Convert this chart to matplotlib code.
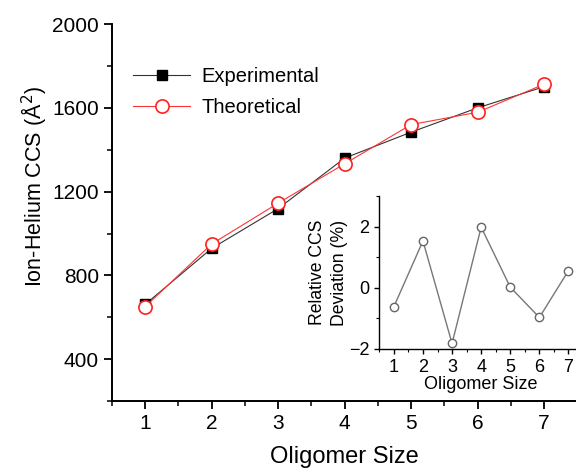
import matplotlib
matplotlib.use("Agg")
import matplotlib.pyplot as plt
from matplotlib.ticker import MultipleLocator

plt.rcParams['font.family'] = ['Liberation Sans', 'DejaVu Sans']

# data
oligomer = [1, 2, 3, 4, 5, 6, 7]
ccs_exp = [662, 929, 1119, 1360, 1484, 1600, 1701]
ccs_theo = [651, 950, 1145, 1333, 1520, 1579, 1713]
deviation = [-0.62, 1.53, -1.82, 1.98, 0.02, -0.97, 0.56]

fig = plt.figure(figsize=(5.76, 4.68), dpi=100)

# main plot
ax = fig.add_axes([0.1944, 0.143, 0.808, 0.8056])
ax.plot(oligomer, ccs_exp, '-s', color='#333333', lw=0.8, mfc='black', mec='black',
        ms=7, label='Experimental')
ax.plot(oligomer, ccs_theo, '-o', color='#ff3333', lw=0.8, mfc='white', mec='#ff2020',
        mew=1.2, ms=9.5, label='Theoretical')
ax.set_xlim(0.5, 7.5)
ax.set_ylim(200, 2000)
ax.xaxis.set_major_locator(MultipleLocator(1))
ax.xaxis.set_minor_locator(MultipleLocator(0.5))
ax.yaxis.set_minor_locator(MultipleLocator(200))
ax.set_yticks([400, 800, 1200, 1600, 2000])
ax.tick_params(which='major', direction='out', length=6, width=1.3, labelsize=15)
ax.tick_params(which='minor', direction='out', length=3.5, width=1.1)
for s in ['top', 'right']:
    ax.spines[s].set_visible(False)
for s in ['left', 'bottom']:
    ax.spines[s].set_linewidth(1.4)
ax.set_xlabel('Oligomer Size', fontsize=17, labelpad=9)
ax.set_ylabel('Ion-Helium CCS (Å$^2$)', fontsize=15.5)
ax.yaxis.set_label_coords(-0.135, 0.57)
ax.legend(loc='upper left', bbox_to_anchor=(0.006, 0.935), frameon=False, fontsize=14.5,
          handlelength=2.85, handletextpad=0.55, labelspacing=0.6)

# inset with relative deviation
ins = fig.add_axes([0.6585, 0.2543, 0.3537, 0.327])
ins.plot(oligomer, deviation, '-o', color='#777777', lw=1.0, mfc='white', mec='#666666',
         mew=1.0, ms=6)
ins.set_xlim(0.5, 7.5)
ins.set_ylim(-2, 3)
ins.xaxis.set_major_locator(MultipleLocator(1))
ins.xaxis.set_minor_locator(MultipleLocator(0.5))
ins.set_yticks([-2, 0, 2])
ins.yaxis.set_minor_locator(MultipleLocator(1))
ins.tick_params(which='major', direction='out', length=3.5, width=1.0, labelsize=13)
ins.tick_params(which='minor', direction='out', length=2.5, width=0.8)
for s in ['top', 'right']:
    ins.spines[s].set_visible(False)
for s in ['left', 'bottom']:
    ins.spines[s].set_linewidth(1.0)
ins.set_xlabel('Oligomer Size', fontsize=13, labelpad=0)
ins.set_ylabel('Relative CCS\nDeviation (%)', fontsize=12.7, labelpad=1, linespacing=1.35)

fig.savefig('out.png', dpi=100)
